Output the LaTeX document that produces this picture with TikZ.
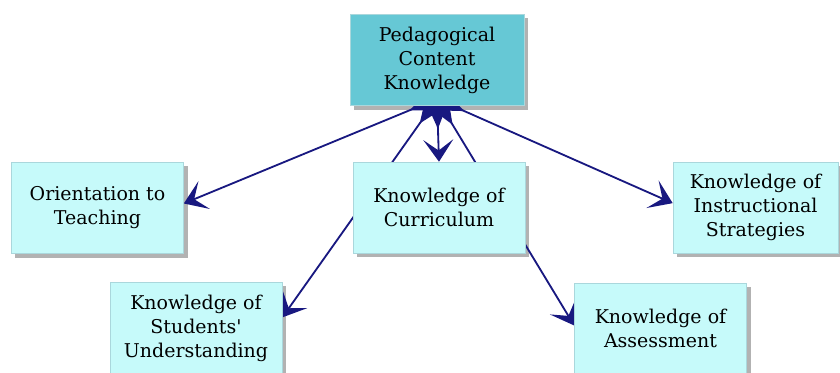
\documentclass[tikz,border=0pt]{standalone}
\usepackage{fontspec}
\setmainfont{DejaVu Serif}
\usetikzlibrary{arrows.meta}
\definecolor{boxfill}{RGB}{198,250,250}
\definecolor{pckfill}{RGB}{102,200,213}
\definecolor{boxline}{RGB}{170,215,220}
\definecolor{linkcol}{RGB}{24,24,128}
\pgfdeclarelayer{background}
\pgfdeclarelayer{links}
\pgfsetlayers{background,links,main}
\begin{document}
\begin{tikzpicture}[x=0.025cm,y=-0.025cm,
  concept/.style={draw=boxline,fill=boxfill,minimum width=4.3cm,minimum height=2.275cm,
    inner sep=0pt,align=center,font=\fontsize{13.5}{17}\selectfont},
  link/.style={draw=linkcol,line width=1.3pt,
    {Triangle[reversed,length=0.75cm,width=0.6cm]}-{Stealth[length=0.55cm,width=0.75cm,inset=0.27cm]}}]
\useasboundingbox (0,0) rectangle (840,373);
\node[concept,fill=pckfill,minimum width=4.35cm] (pck) at (437,60) {Pedagogical\\Content\\Knowledge};
\node[concept] (orient) at (97.5,208) {Orientation to\\Teaching};
\node[concept] (curr) at (439,207.5) {Knowledge of\\Curriculum};
\node[concept,minimum width=4.125cm] (inst) at (755.5,207.5) {Knowledge of\\Instructional\\Strategies};
\node[concept] (stud) at (196,328) {Knowledge of\\Students\textquotesingle\\Understanding};
\node[concept] (assess) at (660.5,328.5) {Knowledge of\\Assessment};
\coordinate (hub) at (437,99);
\begin{pgfonlayer}{background}
\foreach \n in {pck,orient,curr,inst,stud,assess}
  \fill[black!30] ([xshift=0.1cm,yshift=-0.1cm]\n.south west) rectangle ([xshift=0.1cm,yshift=-0.1cm]\n.north east);
\end{pgfonlayer}
\begin{pgfonlayer}{links}
\draw[link] (hub) -- (orient.3);
\draw[link] (hub) -- (inst.177);
\draw[link] (hub) -- (curr.north);
\draw[link] (hub) -- (stud.7);
\draw[link] (hub) -- (assess.178);
\end{pgfonlayer}
\end{tikzpicture}
\end{document}
